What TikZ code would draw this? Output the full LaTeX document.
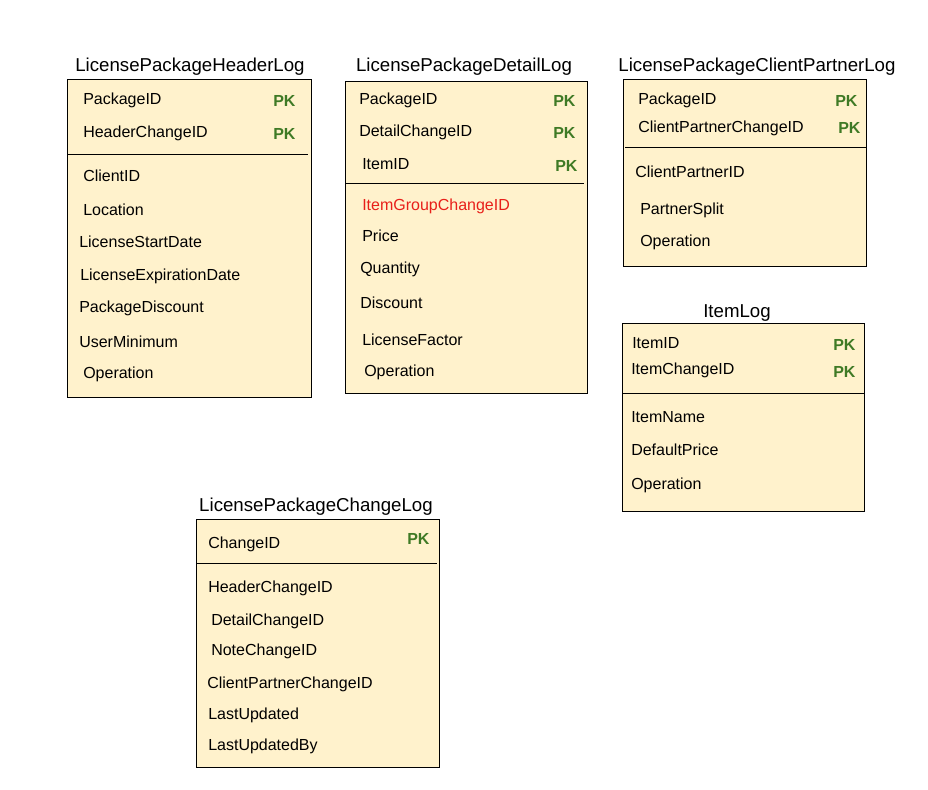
\documentclass[tikz,border=0pt]{standalone}
\usepackage{fontspec}
\setmainfont{Liberation Sans}
\usepackage{xcolor}
\definecolor{tabfill}{HTML}{FFF2CC}
\definecolor{pkgreen}{HTML}{3F7A25}
\definecolor{fkred}{HTML}{E8201A}

\begin{document}
\begin{tikzpicture}[x=0.75pt, y=-0.75pt,
        tabbox/.style={draw=black, fill=tabfill, line width=0.75pt},
        divline/.style={draw=black, line width=0.75pt},
        tabtitle/.style={inner sep=0pt, font=\fontsize{14}{16}\selectfont},
        field/.style={anchor=west, inner sep=0pt, yshift=-0.75pt, font=\fontsize{12}{14}\selectfont},
        pkey/.style={anchor=west, inner sep=0pt, yshift=-0.5pt, text=pkgreen, font=\fontsize{12}{14}\selectfont\bfseries}
        ]
            \useasboundingbox (0,0) rectangle (928,789);

            % LicensePackageHeaderLog
            \draw[tabbox] (67,79) rectangle (311,397);
            \draw[divline] (67,154) -- (308,154);
            \node[tabtitle] (hdrT) at (190,67) {LicensePackageHeaderLog};
            \node[field] (hdr1) at (83,99) {PackageID};
            \node[field] (hdr2) at (83,132) {HeaderChangeID};
            \node[pkey] (hdrP1) at (273,100) {PK};
            \node[pkey] (hdrP2) at (273,133) {PK};
            \node[field] (hdr3) at (83,175) {ClientID};
            \node[field] (hdr4) at (83,209) {Location};
            \node[field] (hdr5) at (79,241) {LicenseStartDate};
            \node[field] (hdr6) at (80,275) {LicenseExpirationDate};
            \node[field] (hdr7) at (79,307) {PackageDiscount};
            \node[field] (hdr8) at (79,341) {UserMinimum};
            \node[field] (hdr9) at (83,373) {Operation};

            % LicensePackageDetailLog
            \draw[tabbox] (345,81) rectangle (587,393);
            \draw[divline] (345,183) -- (584,183);
            \node[tabtitle] (detT) at (464,67) {LicensePackageDetailLog};
            \node[field] (det1) at (359,99) {PackageID};
            \node[field] (det2) at (359,131) {DetailChangeID};
            \node[field] (det3) at (362,163) {ItemID};
            \node[pkey] (detP1) at (553,100) {PK};
            \node[pkey] (detP2) at (553,132) {PK};
            \node[pkey] (detP3) at (555,165) {PK};
            \node[field, text=fkred] (det4) at (362,205) {ItemGroupChangeID};
            \node[field] (det5) at (362,235) {Price};
            \node[field] (det6) at (360,268) {Quantity};
            \node[field] (det7) at (360,302) {Discount};
            \node[field] (det8) at (362,339) {LicenseFactor};
            \node[field] (det9) at (364,371) {Operation};

            % LicensePackageClientPartnerLog
            \draw[tabbox] (623,79) rectangle (866,266);
            \draw[divline] (625,147) -- (866,147);
            \node[tabtitle] (cpT) at (757,67) {LicensePackageClientPartnerLog};
            \node[field] (cp1) at (638,99) {PackageID};
            \node[field] (cp2) at (638,127) {ClientPartnerChangeID};
            \node[pkey] (cpP1) at (835,100) {PK};
            \node[pkey] (cpP2) at (838,127) {PK};
            \node[field] (cp3) at (635,171) {ClientPartnerID};
            \node[field] (cp4) at (640,209) {PartnerSplit};
            \node[field] (cp5) at (640,241) {Operation};

            % ItemLog
            \draw[tabbox] (622,323) rectangle (864,511);
            \draw[divline] (622,393) -- (864,393);
            \node[tabtitle] (itmT) at (737,313) {ItemLog};
            \node[field] (itm1) at (632,342) {ItemID};
            \node[field] (itm2) at (631,369) {ItemChangeID};
            \node[pkey] (itmP1) at (833,344) {PK};
            \node[pkey] (itmP2) at (833,371) {PK};
            \node[field] (itm3) at (631,416) {ItemName};
            \node[field] (itm4) at (631,449) {DefaultPrice};
            \node[field] (itm5) at (631,484) {Operation};

            % LicensePackageChangeLog
            \draw[tabbox] (196,519) rectangle (439,767);
            \draw[divline] (196,563) -- (437,563);
            \node[tabtitle] (chgT) at (316,507) {LicensePackageChangeLog};
            \node[field] (chg1) at (208,543) {ChangeID};
            \node[pkey] (chgP1) at (407,538) {PK};
            \node[field] (chg2) at (208,587) {HeaderChangeID};
            \node[field] (chg3) at (211,620) {DetailChangeID};
            \node[field] (chg4) at (211,650) {NoteChangeID};
            \node[field] (chg5) at (207,683) {ClientPartnerChangeID};
            \node[field] (chg6) at (208,714) {LastUpdated};
            \node[field] (chg7) at (208,745) {LastUpdatedBy};

        \end{tikzpicture}
\end{document}
